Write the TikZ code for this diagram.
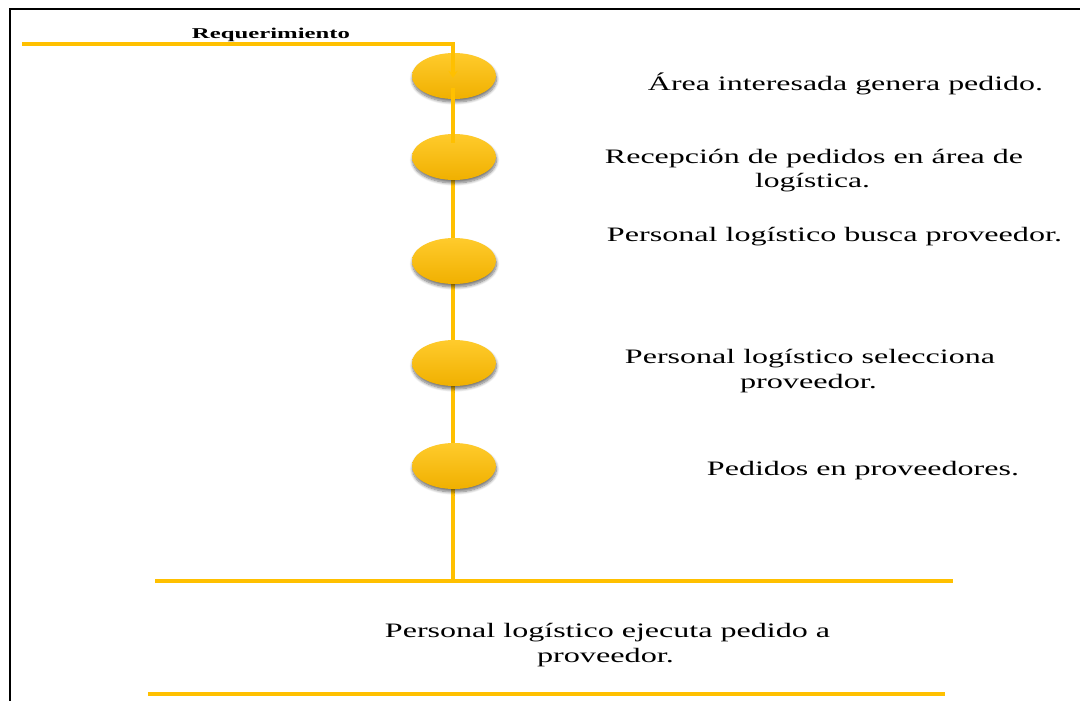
\documentclass[tikz,border=0pt]{standalone}
\usepackage{fontspec}
\setmainfont{Liberation Serif}
\usetikzlibrary{shapes.geometric,shadows.blur,arrows.meta,backgrounds}
\definecolor{gold}{HTML}{FFC000}
\definecolor{goldtop}{HTML}{FFCB2C}
\definecolor{goldbot}{HTML}{F0B000}
\newcommand\fitw[2]{\resizebox{#1pt}{\height}{#2}}
\begin{document}
\begin{tikzpicture}[x=1pt,y=-1pt,
  dot/.style={ellipse, minimum width=84pt, minimum height=46pt, inner sep=0pt,
    top color=goldtop, bottom color=goldbot, draw=none,
    blur shadow={shadow xshift=0.5pt, shadow yshift=-3pt, shadow blur radius=3pt, shadow blur steps=8, shadow opacity=55}},
  gline/.style={draw=gold, line width=3.2pt},
  lbl/.style={anchor=base, inner sep=0pt, font=\fontsize{20.5}{24}\selectfont},
  small/.style={anchor=base, inner sep=0pt, font=\fontsize{15}{18}\selectfont\bfseries},
  frameline/.style={draw=black, line width=1.8pt}]
\useasboundingbox (0,0) rectangle (1080,701);
% frame
\coordinate (fb) at (10,702);
\coordinate (fc) at (10,9);
\coordinate (fr) at (1081,9);
\draw[frameline] (fb) -- (fc) -- (fr);
% ellipses
\node[dot] (e1) at (454,76) {};
\node[dot] (e2) at (454,157) {};
\node[dot] (e3) at (454,261) {};
\node[dot] (e4) at (454,363) {};
\node[dot] (e5) at (454,466) {};
% connectors
\coordinate (start) at (22,44);
\coordinate (bend) at (453,44);
\coordinate (base) at (453,581);
\begin{scope}[on background layer]
\draw[gline] (e1.center -| bend) -- (base);
\end{scope}
\draw[gline, -{Stealth[length=7pt,width=9pt]}] (start) -- (bend) -- ([yshift=-2pt]e1.center -| bend);
\draw[gline] ([yshift=-12pt]e1.center -| bend) -- ([yshift=14pt]e2.center -| bend);
% bottom lines
\coordinate (b1l) at (155,581);
\coordinate (b1r) at (953,581);
\coordinate (b2l) at (148,694);
\coordinate (b2r) at (945,694);
\draw[gline] (b1l) -- (b1r);
\draw[gline] (b2l) -- (b2r);
% texts
\node[small] (req) at (271,38) {\fitw{158}{Requerimiento}};
\node[lbl] (t1) at (845.5,90) {\fitw{395}{Área interesada genera pedido.}};
\node[lbl] (t2a) at (814,163) {\fitw{418}{Recepción de pedidos en área de}};
\node[lbl] (t2b) at (812.5,187) {\fitw{115}{logística.}};
\node[lbl] (t3) at (834.5,241) {\fitw{455}{Personal logístico busca proveedor.}};
\node[lbl] (t4a) at (810,363) {\fitw{370}{Personal logístico selecciona}};
\node[lbl] (t4b) at (808.5,388) {\fitw{137}{proveedor.}};
\node[lbl] (t5) at (863,475) {\fitw{312}{Pedidos en proveedores.}};
\node[lbl] (t6a) at (607.5,637) {\fitw{445}{Personal logístico ejecuta pedido a}};
\node[lbl] (t6b) at (605.5,662) {\fitw{137}{proveedor.}};
\end{tikzpicture}
\end{document}
